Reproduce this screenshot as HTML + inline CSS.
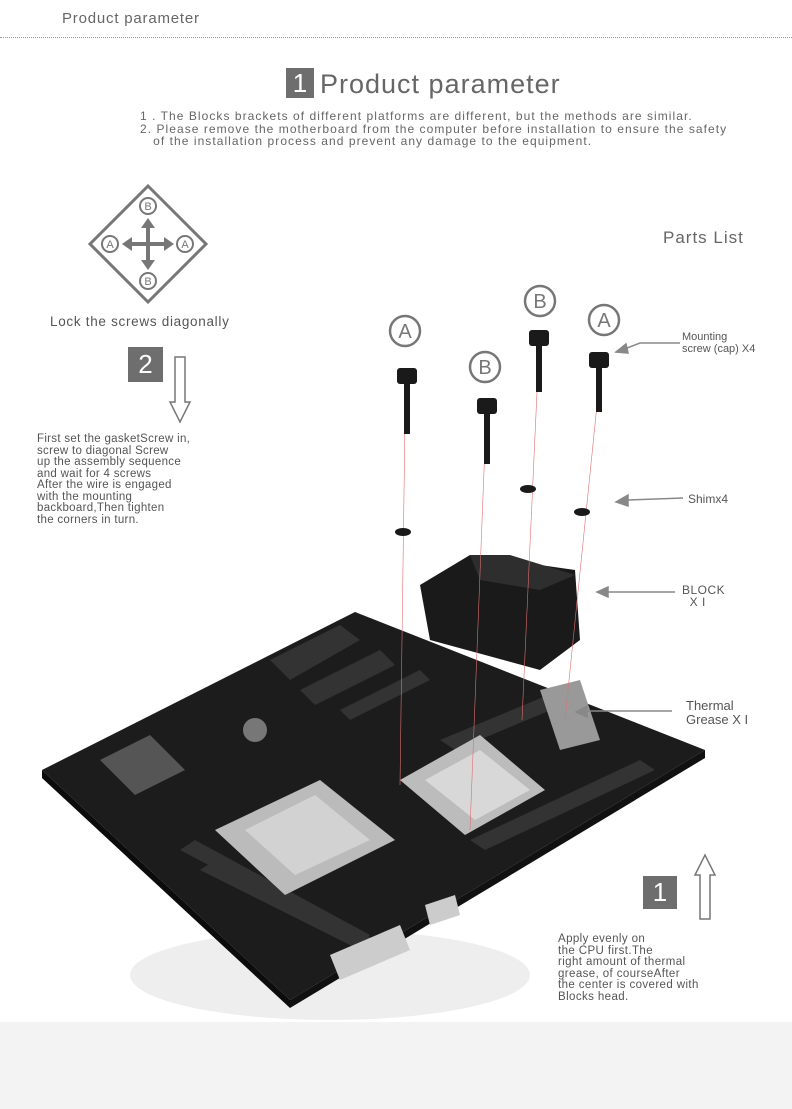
<!DOCTYPE html>
<html><head><meta charset="utf-8"><style>
body{margin:0;width:792px;height:1109px;background:#fff;position:relative;overflow:hidden;font-family:"Liberation Sans",sans-serif;color:#555}
.t{position:absolute;white-space:nowrap}
</style></head><body>
<div class="t" style="left:62px;top:10px;font-size:15px;color:#666;letter-spacing:0.8px">Product parameter</div>
<div style="position:absolute;left:0;top:37px;width:792px;border-top:1px dotted #999"></div>
<div style="position:absolute;left:286px;top:68px;width:28px;height:30px;background:#6e6e6e;color:#fff;font-size:26px;text-align:center;line-height:30px">1</div>
<div class="t" style="left:320px;top:69px;font-size:27px;color:#666;letter-spacing:1px">Product parameter</div>
<div class="t" style="left:140px;top:110px;font-size:12px;line-height:12.5px;color:#666;letter-spacing:1.05px">1 . The Blocks  brackets of different platforms are different, but the methods are similar.<br>2. Please remove the motherboard from the computer before installation to ensure the safety<br>&nbsp;&nbsp;&nbsp;of the installation process and prevent any damage to the equipment.</div>

<svg style="position:absolute;left:0;top:0" width="792" height="1109">
<polygon points="148,186 206,244 148,302 90,244" fill="none" stroke="#777" stroke-width="3"/>
<g fill="none" stroke="#777" stroke-width="2">
<circle cx="148" cy="206" r="8"/><circle cx="148" cy="281" r="8"/><circle cx="110" cy="244" r="8"/><circle cx="185" cy="244" r="8"/></g>
<g font-size="11" fill="#777" text-anchor="middle" font-family="Liberation Sans"><text x="148" y="210">B</text><text x="148" y="285">B</text><text x="110" y="248">A</text><text x="185" y="248">A</text></g>
<g stroke="#777" stroke-width="4"><line x1="148" y1="224" x2="148" y2="264"/><line x1="128" y1="244" x2="168" y2="244"/></g>
<g fill="#777"><polygon points="148,218 141,228 155,228"/><polygon points="148,270 141,260 155,260"/><polygon points="122,244 132,237 132,251"/><polygon points="174,244 164,237 164,251"/></g>
<polygon points="175,357 185,357 185,402 190,402 180,422 170,402 175,402" fill="none" stroke="#777" stroke-width="1.5"/>
<polygon points="700,919 710,919 710,875 715,875 705,855 695,875 700,875" fill="none" stroke="#777" stroke-width="1.5"/>
<ellipse cx="330" cy="975" rx="200" ry="45" fill="#eeeeee"/>
<polygon points="42,770 355,612 705,750 290,1000" fill="#1c1c1c"/>
<polygon points="42,770 290,1000 290,1008 42,778" fill="#0c0c0c"/>
<polygon points="290,1000 705,750 705,758 290,1008" fill="#111"/>
<g fill="#333"><polygon points="270,660 340,625 360,640 290,680"/><polygon points="300,690 380,650 395,665 315,705"/><polygon points="340,710 420,670 430,680 350,720"/>
<polygon points="200,870 380,960 395,950 215,860"/><polygon points="180,850 360,945 370,935 195,840"/><polygon points="470,840 640,760 655,770 485,850"/><polygon points="440,740 560,690 575,700 455,750"/></g>
<polygon points="100,760 150,735 185,770 135,795" fill="#555"/>
<polygon points="215,830 320,780 395,840 285,895" fill="#bbb"/>
<polygon points="245,830 315,795 370,840 295,875" fill="#d2d2d2"/>
<polygon points="400,780 480,735 545,790 465,835" fill="#bcbcbc"/>
<polygon points="425,780 480,750 530,790 475,820" fill="#d8d8d8"/>
<polygon points="540,690 580,680 600,740 560,750" fill="#999"/>
<polygon points="330,955 400,925 410,950 340,980" fill="#ccc"/>
<polygon points="425,905 455,895 460,915 430,925" fill="#ccc"/>
<circle cx="255" cy="730" r="12" fill="#777"/>
<polygon points="420,585 470,555 575,570 580,640 540,670 430,640" fill="#1a1a1a"/>
<polygon points="470,555 510,555 575,575 540,590 480,580" fill="#2e2e2e"/>
<g stroke="#e07070" stroke-width="0.6"><line x1="405" y1="420" x2="400" y2="785"/><line x1="485" y1="445" x2="470" y2="830"/><line x1="538" y1="370" x2="522" y2="720"/><line x1="598" y1="395" x2="565" y2="720"/></g>
<g fill="#1a1a1a">
<rect x="397" y="368" width="20" height="16" rx="3"/><rect x="404" y="384" width="6" height="50"/>
<rect x="477" y="398" width="20" height="16" rx="3"/><rect x="484" y="414" width="6" height="50"/>
<rect x="529" y="330" width="20" height="16" rx="3"/><rect x="536" y="346" width="6" height="46"/>
<rect x="589" y="352" width="20" height="16" rx="3"/><rect x="596" y="368" width="6" height="44"/>
<ellipse cx="403" cy="532" rx="8" ry="4"/><ellipse cx="528" cy="489" rx="8" ry="4"/><ellipse cx="582" cy="512" rx="8" ry="4"/></g>
<g fill="none" stroke="#777" stroke-width="2.5"><circle cx="405" cy="331" r="15"/><circle cx="485" cy="367" r="15"/><circle cx="540" cy="301" r="15"/><circle cx="604" cy="320" r="15"/></g>
<g font-size="20" fill="#777" text-anchor="middle" font-family="Liberation Sans"><text x="405" y="338">A</text><text x="485" y="374">B</text><text x="540" y="308">B</text><text x="604" y="327">A</text></g>
<g stroke="#888" stroke-width="1.5" fill="#888">
<polyline points="680,343 640,343 622,350" fill="none"/><polygon points="616,352 626,344 628,353"/>
<line x1="683" y1="498" x2="628" y2="500"/><polygon points="616,502 628,495 628,506"/>
<line x1="675" y1="592" x2="606" y2="592"/><polygon points="597,592 608,587 608,597"/>
<line x1="672" y1="711" x2="585" y2="711"/><polygon points="576,712 587,706 587,717"/></g>
</svg>
<div class="t" style="left:663px;top:228px;font-size:17px;color:#666;letter-spacing:1px">Parts List</div>
<div class="t" style="left:50px;top:314px;font-size:13.5px;color:#555;letter-spacing:0.7px">Lock the screws diagonally</div>
<div style="position:absolute;left:128px;top:347px;width:35px;height:35px;background:#6e6e6e;color:#fff;font-size:26px;text-align:center;line-height:35px">2</div>
<div class="t" style="left:37px;top:434px;font-size:11.5px;line-height:11.5px;color:#555;letter-spacing:0.3px">First set the gasketScrew in,<br>screw to diagonal Screw<br>up the assembly sequence<br>and wait for 4 screws<br>After the wire is engaged<br>with the mounting<br>backboard,Then tighten<br>the corners in turn.</div>
<div class="t" style="left:682px;top:331px;font-size:11px;line-height:12px">Mounting<br>screw (cap) X4</div>
<div class="t" style="left:688px;top:492px;font-size:12px">Shimx4</div>
<div class="t" style="left:682px;top:584px;font-size:12px;line-height:12px;letter-spacing:0.5px">BLOCK<br>&nbsp;&nbsp;X I</div>
<div class="t" style="left:686px;top:699px;font-size:13px;line-height:14px">Thermal<br>Grease X I</div>
<div style="position:absolute;left:643px;top:876px;width:34px;height:33px;background:#6e6e6e;color:#fff;font-size:26px;text-align:center;line-height:33px">1</div>
<div class="t" style="left:558px;top:934px;font-size:11.5px;line-height:11.5px;letter-spacing:0.4px">Apply evenly on<br>the CPU first.The<br>right amount of thermal<br>grease, of courseAfter<br>the center is covered with<br>Blocks  head.</div>
<div style="position:absolute;left:0;top:1022px;width:792px;height:87px;background:#f3f3f3"></div>
</body></html>
